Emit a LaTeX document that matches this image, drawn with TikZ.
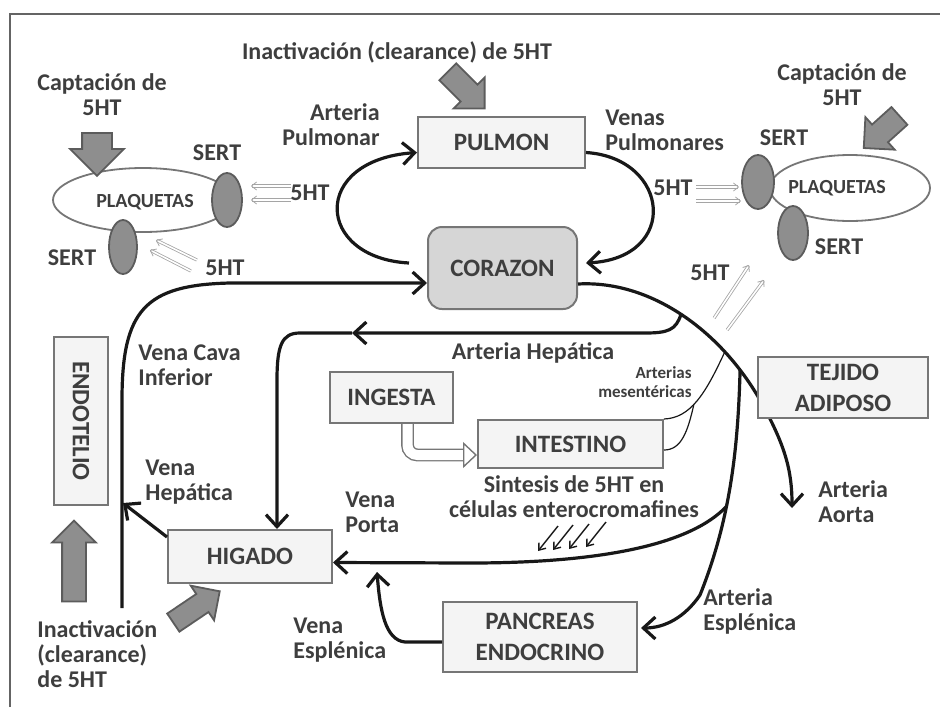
\documentclass[tikz,border=0pt]{standalone}
\usepackage{fontspec}
\setmainfont{Carlito}
\usepackage{tikz}
\usetikzlibrary{arrows.meta,calc,positioning,shapes.geometric,shapes.arrows}
\definecolor{ink}{RGB}{24,24,24}
\definecolor{txtgray}{RGB}{62,62,62}
\definecolor{edgegray}{RGB}{118,118,118}
\definecolor{boxfill}{RGB}{244,244,244}
\definecolor{heartfill}{RGB}{214,214,214}
\definecolor{sertfill}{RGB}{142,142,142}
\definecolor{sertedge}{RGB}{92,92,92}
\definecolor{faintgray}{RGB}{165,165,165}
\definecolor{framegray}{RGB}{100,100,100}
\tikzset{
  flow/.style={-{Straight Barb[length=6pt,width=11pt]},line width=1.6pt,draw=ink},
  wire/.style={line width=1.6pt,draw=ink},
  organ/.style={draw=edgegray,line width=1pt,fill=boxfill,align=center,inner sep=2pt,text=txtgray,font=\fontsize{12.5}{15.5}\selectfont\bfseries},
  heart/.style={organ,fill=heartfill,rounded corners=7pt},
  cell/.style={ellipse,draw=edgegray,line width=0.9pt,fill=white,inner sep=0pt},
  celltext/.style={inner sep=0pt,text=txtgray,font=\fontsize{10}{12}\selectfont\bfseries},
  sert/.style={ellipse,draw=sertedge,line width=0.9pt,fill=sertfill,inner sep=0pt,minimum width=15pt,minimum height=27pt},
  lbl/.style={text=txtgray,inner sep=0pt,font=\fontsize{12}{12.5}\selectfont\bfseries},
  small/.style={text=txtgray,inner sep=0pt,font=\fontsize{8.5}{9.5}\selectfont\bfseries},
  uptake/.style={-{Straight Barb[length=2.5pt,width=4pt]},draw=faintgray,line width=0.4pt,double=white,double distance=0.8pt},
  secrete/.style={-{Straight Barb[length=3pt,width=4.5pt]},draw=ink,line width=0.7pt},
  mesen/.style={draw=ink,line width=0.6pt},
  hollow/.style={draw=edgegray,line width=0.7pt,double=white,double distance=5pt,rounded corners=5pt,-{Triangle[open,length=7pt,width=13pt]}},
  bigarrow/.style={single arrow,draw=sertedge,fill=sertfill,line width=0.9pt,inner xsep=0pt,inner ysep=5.5pt,single arrow head extend=5pt}
}

\begin{document}
\begin{tikzpicture}[x=0.5pt,y=-0.5pt]
  \useasboundingbox (0,0) rectangle (940,707);
  \draw[framegray,line width=1.3pt] (10,707) -- (10,14) -- (940,14);

  % organs
  \node[organ,minimum width=83.5pt,minimum height=25.5pt] (pulmon) at (501.5,142.5) {PULMON};
  \node[heart,minimum width=74.5pt,minimum height=41pt] (corazon) at (502.5,268) {CORAZON};
  \node[organ,minimum width=61.5pt,minimum height=25.5pt] (ingesta) at (391.5,397.5) {INGESTA};
  \node[organ,minimum width=92.5pt,minimum height=24pt] (intestino) at (570.5,444) {INTESTINO};
  \node[organ,minimum width=82pt,minimum height=26.5pt] (higado) at (250,556.5) {HIGADO};
  \node[organ,minimum width=97pt,minimum height=35pt] (pancreas) at (540,637) {PANCREAS\\ENDOCRINO};
  \node[organ,minimum width=84pt,minimum height=27pt,rotate=-90] (endotelio) at (81,421) {ENDOTELIO};

  % platelets and transporters
  \node[cell,minimum width=90pt,minimum height=32pt] (plaqL) at (143,200) {};
  \node[celltext] (plaqLtxt) at (145,202) {PLAQUETAS};
  \node[sert] (sertA) at (227,200) {};
  \node[sert,minimum width=14pt] (sertB) at (123,247) {};
  \node[cell,minimum width=80pt,minimum height=33pt] (plaqR) at (850,188) {};
  \node[celltext] (plaqRtxt) at (837,188) {PLAQUETAS};
  \node[sert,minimum width=16pt] (sertC) at (758,182) {};
  \node[sert] (sertD) at (793,233) {};

  % labels
  \node[lbl] (inactTop) at (397,52) {Inactivación (clearance) de 5HT};
  \node[lbl,align=center] (captL) at (102,95) {Captación de\\5HT};
  \node[lbl,align=center] (captR) at (842,85) {Captación de\\5HT};
  \node[lbl] (sertAl) at (217,153) {SERT};
  \node[lbl] (sertBl) at (72,258) {SERT};
  \node[lbl] (sertCl) at (784,138) {SERT};
  \node[lbl] (sertDl) at (839,247) {SERT};
  \node[lbl] (htA) at (310,193) {5HT};
  \node[lbl] (htB) at (225,268) {5HT};
  \node[lbl] (htC) at (673,188) {5HT};
  \node[lbl] (htD) at (710,273) {5HT};
  \node[lbl,align=right,anchor=east] (artPul) at (380,125) {Arteria\\Pulmonar};
  \node[lbl,align=left,anchor=west] (venPul) at (605,130) {Venas\\Pulmonares};
  \node[lbl,align=left,anchor=west] (venCava) at (138,365) {Vena Cava\\Inferior};
  \node[lbl] (artHep) at (533,353) {Arteria Hepática};
  \node[small,align=right,anchor=east] (artMes) at (692,382) {Arterias\\mesentéricas};
  \node[lbl,align=center] (sintesis) at (574,497) {Sintesis de 5HT en\\células enterocromafines};
  \node[lbl,align=left,anchor=west] (venHep) at (145,482) {Vena\\Hepática};
  \node[lbl,align=left,anchor=west] (venPor) at (345,512) {Vena\\Porta};
  \node[lbl,align=left,anchor=west] (venEsp) at (293,640) {Vena\\Esplénica};
  \node[lbl,align=left,anchor=west] (artEsp) at (703,611) {Arteria\\Esplénica};
  \node[lbl,align=left,anchor=west] (artAor) at (818,502) {Arteria\\Aorta};
  \node[lbl,align=left,anchor=west] (inactBot) at (37,654) {Inactivación\\(clearance)\\de 5HT};

  % block arrows
  \node[bigarrow,minimum height=26pt,rotate=-45] (inactP) at (462,86) {};
  \node[bigarrow,minimum height=21.5pt,inner ysep=7pt,single arrow head extend=6pt,rotate=-90] (captArrL) at (97,147) {};
  \node[bigarrow,minimum height=24pt,rotate=-138] (captArrR) at (886,128) {};
  \node[bigarrow,minimum height=40.5pt,rotate=90] (inactE) at (74,567) {};
  \node[bigarrow,minimum height=28pt,inner ysep=5pt,rotate=34] (inactH) at (192,610) {};

  % circulation
  \draw[flow] ([xshift=-9pt,yshift=2.5pt]corazon.west) .. controls (315,258) and (310,160) .. ([yshift=-5pt]pulmon.west);
  \draw[flow] ([yshift=-5pt]pulmon.east) .. controls (670,158) and (680,258) .. ([xshift=4pt,yshift=2.5pt]corazon.east);
  \coordinate (cavaB) at (122,608);
  \coordinate (cavaH) at (123,503);
  \draw[flow] (cavaB) -- (122,400) .. controls (122,310) and (145,285) .. (230,283) -- ([yshift=-7.5pt]corazon.west);
  \draw[flow] ([yshift=-4pt]higado.north west) -- (cavaH);
  \draw[flow] ([yshift=-8pt]corazon.east) .. controls (650,280) and (720,330) .. (760,400)
    coordinate[pos=0.5] (hepJ) coordinate[pos=0.75] (mesJ) coordinate[pos=0.85] (splJ)
    .. controls (785,445) and (792,470) .. (792,508);
  \coordinate (hepM) at (352,333);
  \draw[flow] (hepJ) .. controls (676,330) and (668,333) .. (645,333) -- (hepM);
  \draw[flow] (hepM) -- (300,333) .. controls (282,333) and (277,345) .. (277,380) -- ([xshift=13.5pt]higado.north);
  \draw[flow] (splJ) .. controls (738,450) and (730,520) .. (700,595) coordinate[pos=0.6] (portaJ)
    .. controls (685,617) and (665,628) .. ([xshift=1.5pt,yshift=4.5pt]pancreas.east);
  \draw[flow] (portaJ) .. controls (690,545) and (600,563) .. (470,563) -- ([yshift=-3pt]higado.east);
  \coordinate (esplT) at (377,572);
  \draw[flow] ([yshift=-2.5pt]pancreas.west) -- (405,642) .. controls (385,640) and (380,610) .. (esplT);
  \draw[mesen] (mesJ) .. controls (705,395) and (690,418) .. (intestino.north east) coordinate[pos=0.55] (mesK);
  \draw[mesen] (mesK) .. controls (688,430) and (682,450) .. ([yshift=-3pt]intestino.east);
  \draw[hollow] ([xshift=8pt]ingesta.south) |- ([yshift=-5.5pt]intestino.west);

  % serotonin uptake
  \draw[uptake] ([xshift=24pt,yshift=7pt]sertA.east) -- ([xshift=4pt,yshift=7pt]sertA.east);
  \draw[uptake] ([xshift=24pt]sertA.east) -- ([xshift=4pt]sertA.east);
  \draw[uptake] ([shift={(26.5pt,-12pt)}]sertB.east) -- ([shift={(6pt,-1.5pt)}]sertB.east);
  \draw[uptake] ([shift={(29.5pt,-6.5pt)}]sertB.east) -- ([shift={(9pt,3.5pt)}]sertB.east);
  \draw[uptake] ([shift={(-22.5pt,-2.5pt)}]sertC.west) -- ([shift={(-1pt,-2.5pt)}]sertC.west);
  \draw[uptake] ([shift={(-22.5pt,-9.5pt)}]sertC.west) -- ([shift={(0pt,-9.5pt)}]sertC.west);
  \draw[uptake] ([shift={(-31.5pt,-42.5pt)}]sertD.west) -- ([shift={(-14pt,-16pt)}]sertD.west);
  \draw[uptake] ([shift={(-25pt,-48.5pt)}]sertD.west) -- ([shift={(-6.5pt,-23.5pt)}]sertD.west);

  % secretion from enterochromaffin cells
  \foreach \tx/\ty in {538/551,553/550,569/549,586/547}
    \draw[secrete] (\tx+20,\ty-25) -- (\tx,\ty);

  \node[organ,minimum width=85pt,minimum height=30.5pt] (tejido) at (843,387.5) {TEJIDO\\ADIPOSO};
\end{tikzpicture}
\end{document}
